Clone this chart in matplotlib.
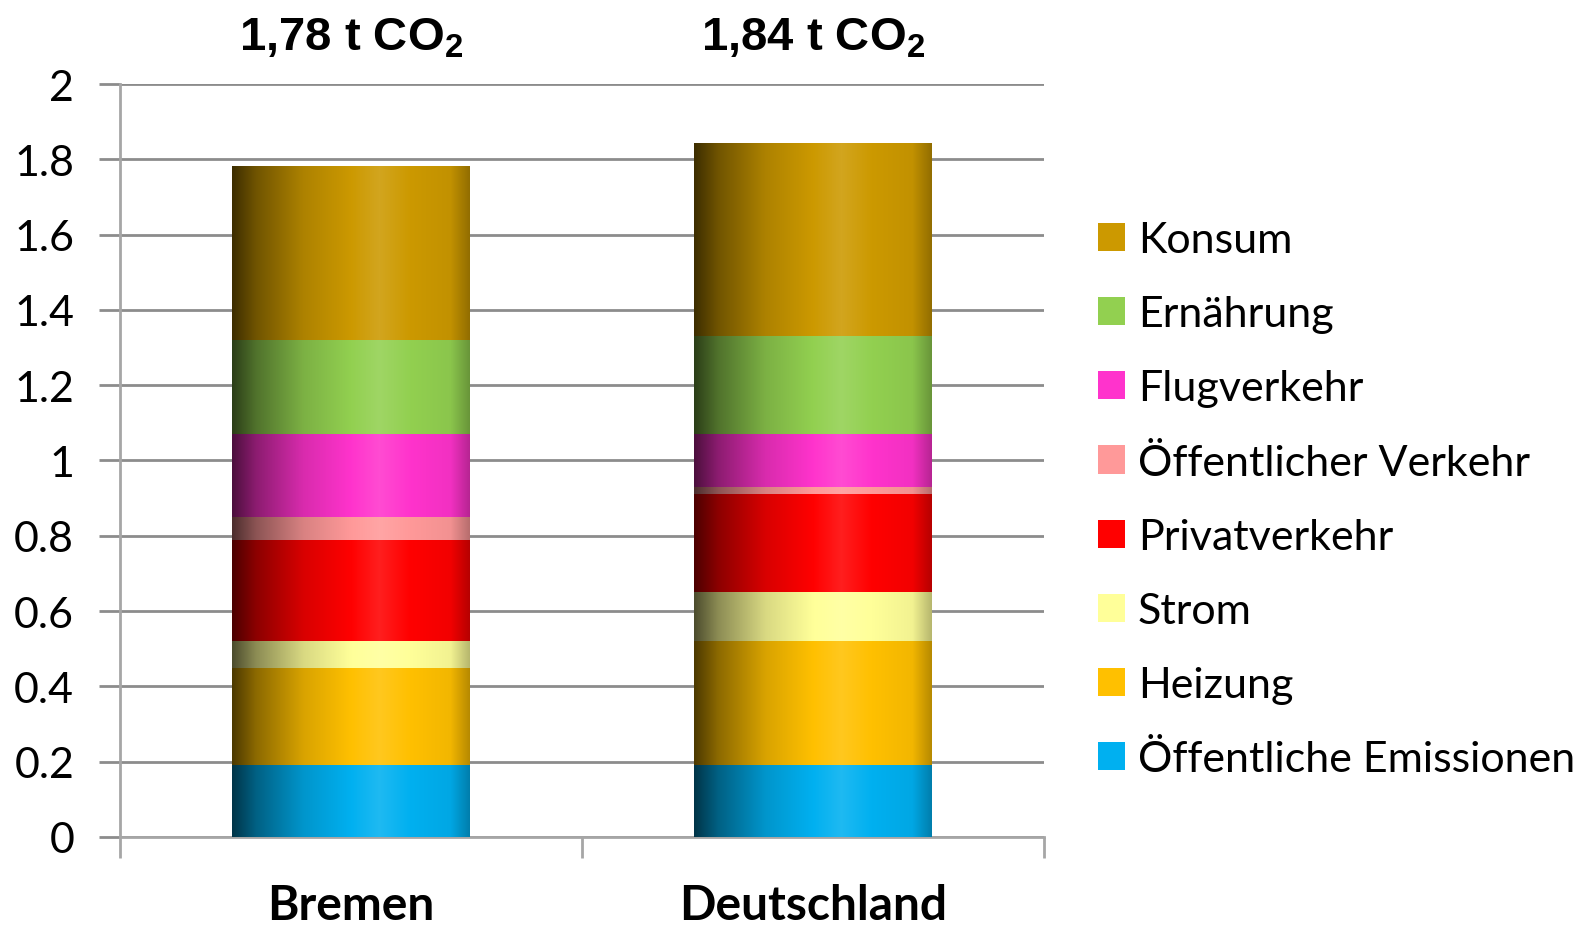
import numpy as np
import matplotlib
matplotlib.use("Agg")
import matplotlib.pyplot as plt
from matplotlib.patches import Patch
from matplotlib.colors import to_rgb

# ---- data ----
regions = ["Bremen", "Deutschland"]
totals_text = ["1,78 t CO", "1,84 t CO"]
categories = ["Öffentliche Emissionen", "Heizung", "Strom", "Privatverkehr",
              "Öffentlicher Verkehr", "Flugverkehr", "Ernährung", "Konsum"]
oeffentliche = [0.19, 0.19]
heizung = [0.26, 0.33]
strom = [0.07, 0.13]
privatverkehr = [0.27, 0.26]
oepnv = [0.06, 0.02]
flugverkehr = [0.22, 0.14]
ernaehrung = [0.25, 0.26]
konsum = [0.46, 0.51]
series = [oeffentliche, heizung, strom, privatverkehr, oepnv, flugverkehr, ernaehrung, konsum]
colors = ["#00B0F0", "#FFC000", "#FFFF99", "#FF0000", "#FF9999", "#FF33CC", "#92D050", "#CC9900"]
yticks = [0, 0.2, 0.4, 0.6, 0.8, 1, 1.2, 1.4, 1.6, 1.8, 2]
ytick_labels = ["0", "0.2", "0.4", "0.6", "0.8", "1", "1.2", "1.4", "1.6", "1.8", "2"]

plt.rcParams['mathtext.fontset'] = 'custom'
plt.rcParams['mathtext.rm'] = 'Liberation Sans:bold'
plt.rcParams['mathtext.it'] = 'Liberation Sans:bold'
plt.rcParams['mathtext.bf'] = 'Liberation Sans:bold'

fig = plt.figure(figsize=(15.9, 9.28), dpi=100)
ax = fig.add_axes([0.0755, 0.097, 0.581, 0.8114])

x = np.arange(len(regions))
width = 0.515
bottom = np.zeros(len(regions))

# cylinder-like shading profile
tp = [0.0, 0.1, 0.3, 0.5, 0.62, 0.75, 0.92, 1.0]
fp = [0.3, 0.55, 0.85, 1.0, 1.12, 1.0, 0.95, 0.72]
tt = np.linspace(0, 1, 200)
prof = np.interp(tt, tp, fp)

def shade(col):
    c = np.array(to_rgb(col))
    out = np.zeros((1, len(tt), 3))
    for i, f in enumerate(prof):
        if f <= 1:
            out[0, i] = c * f
        else:
            out[0, i] = c + (1 - c) * (f - 1)
    return np.clip(out, 0, 1)

for vals, col, lab in zip(series, colors, categories):
    bars = ax.bar(x, vals, width, bottom=bottom, color=col, label=lab, zorder=3, linewidth=0)
    img = shade(col)
    for b in bars:
        x0, y0, w, h = b.get_x(), b.get_y(), b.get_width(), b.get_height()
        ax.imshow(img, extent=[x0, x0 + w, y0, y0 + h], aspect='auto', zorder=4,
                  interpolation='bilinear', origin='lower')
    bottom += np.array(vals)

ax.set_xlim(-0.5, 1.5)
ax.set_ylim(0, 2)
ax.set_aspect('auto')

gc = '#8C8C8C'
ax.set_yticks(yticks)
ax.set_yticklabels(ytick_labels, family='Lato', fontsize=31)
ax.yaxis.grid(True, color=gc, linewidth=2, zorder=0)
ax.set_axisbelow(True)
ax.tick_params(axis='y', length=15, width=2, color=gc, pad=18)

ax.set_xticks(x)
ax.set_xticklabels(regions, family='Lato', fontweight='bold', fontsize=34.5)
ax.tick_params(axis='x', length=0, pad=33)
ax.set_xticks([-0.5, 0.5, 1.5], minor=True)
ax.tick_params(axis='x', which='minor', length=15, width=2, color='#A6A6A6')

for s in ['top', 'right']:
    ax.spines[s].set_visible(False)
for s in ['left', 'bottom']:
    ax.spines[s].set_color('#A6A6A6')
    ax.spines[s].set_linewidth(2)

for xi, t in zip(x, totals_text):
    ax.text(xi, 1.062, t + r"$_{2}$", transform=ax.get_xaxis_transform(),
            ha='center', va='center', fontsize=34, family='Liberation Sans',
            fontweight='bold', clip_on=False)

handles = [Patch(facecolor=c, label=l) for c, l in zip(colors, categories)][::-1]
fig.legend(handles=handles, loc='upper left', bbox_to_anchor=(0.6905, 0.7606),
           frameon=False, prop={'family': 'Lato', 'size': 31},
           handlelength=0.63, handleheight=0.63, handletextpad=0.3,
           labelspacing=0.84, borderpad=0, borderaxespad=0)

fig.savefig("out.png", dpi=100)
